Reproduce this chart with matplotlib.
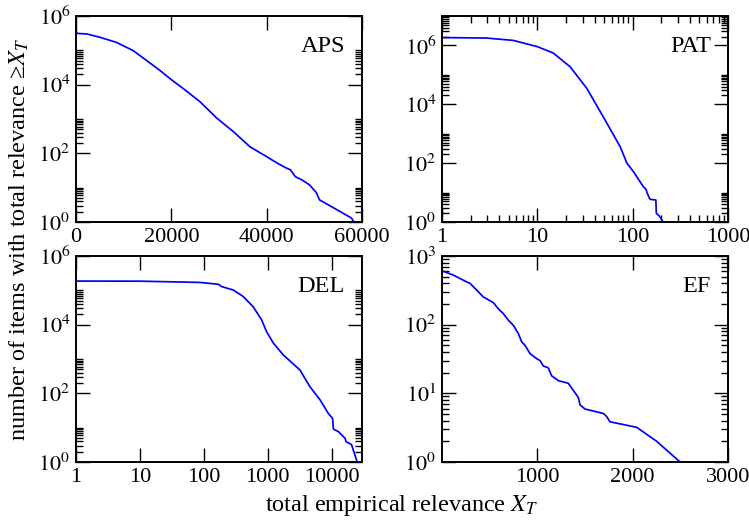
import numpy as np
import matplotlib
matplotlib.use("Agg")
import matplotlib.pyplot as plt
from matplotlib.ticker import FixedLocator, FixedFormatter, NullFormatter, LogLocator

plt.rcParams['font.family'] = ['Liberation Serif', 'DejaVu Serif']
plt.rcParams['mathtext.fontset'] = 'stix'

# ---- data ----
aps_x = [0, 300, 2300, 5000, 8500, 12000, 15500, 17600, 20000, 22500, 24300,
         26000, 29500, 33000, 36500, 40000, 42200, 44000, 45000, 46000, 47500,
         49000, 50400, 51100, 53600, 57800, 58300]
aps_y = [3.6e5, 3.1e5, 3.0e5, 2.4e5, 1.7e5, 9.8e4, 4.3e4, 2.6e4, 1.4e4, 7.7e3,
         4.9e3, 3.2e3, 1.07e3, 4.3e2, 1.55e2, 8.0e1, 5.2e1, 3.8e1, 3.3e1, 2.1e1,
         1.65e1, 1.2e1, 7.2e0, 4.4e0, 2.8e0, 1.3e0, 1.0e0]

pat_x = [1, 2.95, 5.6, 10, 14.7, 22, 33, 49, 74, 87, 102, 129, 138, 142, 152,
         175, 177, 190, 202, 207]
pat_y = [1.85e6, 1.78e6, 1.48e6, 9.1e5, 5.5e5, 1.9e5, 3.5e4, 3.8e3, 3.6e2, 1.0e2,
         5.1e1, 1.6e1, 1.3e1, 9.5e0, 5.9e0, 5.6e0, 2.0e0, 1.6e0, 1.2e0, 1.0e0]

del_x = [1, 10, 87, 170, 190, 290, 415, 595, 805, 960, 1230, 1750, 3200, 4600,
         6600, 8900, 10400, 10700, 12900, 16300, 16900, 20600, 25200]
del_y = [1.86e5, 1.85e5, 1.7e5, 1.5e5, 1.29e5, 1.02e5, 6.6e4, 3.3e4, 1.38e4,
         6.3e3, 2.9e3, 1.32e3, 4.8e2, 1.55e2, 6.5e1, 2.6e1, 1.86e1, 9.1e0, 7.6e0,
         4.9e0, 3.9e0, 3.2e0, 1.0e0]

ef_x = [0, 119, 259, 294, 434, 538, 591, 643, 696, 748, 801, 836, 871, 923, 993,
        1028, 1063, 1115, 1150, 1220, 1325, 1378, 1430, 1448, 1500, 1692, 1727,
        1762, 2042, 2252, 2497]
ef_y = [610, 527, 420, 400, 253, 210, 170, 145, 116, 98, 74, 56, 50, 38, 32,
        30, 25, 23.5, 18, 15.3, 14, 11, 8.7, 6.8, 5.9, 5.1, 4.6, 3.85, 3.2,
        2.0, 1.0]

log_ticks_6 = [1, 1e2, 1e4, 1e6]
log_labels_6 = [r'$10^{0}$', r'$10^{2}$', r'$10^{4}$', r'$10^{6}$']

W, H = 749, 520
fig = plt.figure(figsize=(W / 100, H / 100), dpi=100)

def rect(l, t, r, b):
    return [l / W, 1 - b / H, (r - l) / W, (b - t) / H]

ax_aps = fig.add_axes(rect(76, 16, 362, 222))
ax_pat = fig.add_axes(rect(442, 16, 728, 222))
ax_del = fig.add_axes(rect(76, 256, 362, 462))
ax_ef = fig.add_axes(rect(442, 256, 728, 462))

blue = '#0000ff'
lw = 1.25
fs_tick = 16

def style(ax, name):
    for s in ax.spines.values():
        s.set_linewidth(1.4)
    ax.tick_params(which='both', direction='in', top=True, right=True,
                   labelsize=fs_tick, width=1.0, pad=4)
    ax.tick_params(which='major', length=10)
    ax.tick_params(which='minor', length=5)
    ax.text(0.94, 0.905, name, transform=ax.transAxes, ha='right', va='top',
            fontsize=17.5)

def sparse_minor(maxexp):
    vals = []
    for e in range(0, maxexp + 1, 2):
        for k in range(2, 11):
            vals.append(k * 10.0 ** e)
    return vals

# APS
ax = ax_aps
ax.plot(aps_x, aps_y, color=blue, lw=lw)
ax.set_yscale('log')
ax.set_xlim(0, 60000)
ax.set_ylim(1, 1e6)
ax.set_xticks([0, 20000, 40000, 60000])
ax.set_xticklabels(['0', '20000', '40000', '60000'])
ax.yaxis.set_major_locator(FixedLocator(log_ticks_6))
ax.yaxis.set_major_formatter(FixedFormatter(log_labels_6))
ax.yaxis.set_minor_locator(FixedLocator(sparse_minor(4)))
ax.yaxis.set_minor_formatter(NullFormatter())
style(ax, 'APS')

# PAT
ax = ax_pat
ax.plot(pat_x, pat_y, color=blue, lw=lw)
ax.set_xscale('log')
ax.set_yscale('log')
ax.set_xlim(1, 1000)
ax.set_ylim(1, 1e7)
ax.xaxis.set_major_locator(FixedLocator([1, 10, 100, 1000]))
ax.xaxis.set_major_formatter(FixedFormatter(['1', '10', '100', '1000']))
ax.xaxis.set_minor_locator(LogLocator(base=10, subs=np.arange(2, 10)))
ax.xaxis.set_minor_formatter(NullFormatter())
ax.yaxis.set_major_locator(FixedLocator(log_ticks_6))
ax.yaxis.set_major_formatter(FixedFormatter(log_labels_6))
ax.yaxis.set_minor_locator(FixedLocator(sparse_minor(6)))
ax.yaxis.set_minor_formatter(NullFormatter())
style(ax, 'PAT')

# DEL
ax = ax_del
ax.plot(del_x, del_y, color=blue, lw=lw)
ax.set_xscale('log')
ax.set_yscale('log')
ax.set_xlim(1, 30000)
ax.set_ylim(1, 1e6)
ax.xaxis.set_major_locator(FixedLocator([1, 10, 100, 1000, 10000]))
ax.xaxis.set_major_formatter(FixedFormatter(['1', '10', '100', '1000', '10000']))
ax.xaxis.set_minor_locator(LogLocator(base=10, subs=np.arange(2, 10)))
ax.xaxis.set_minor_formatter(NullFormatter())
ax.yaxis.set_major_locator(FixedLocator(log_ticks_6))
ax.yaxis.set_major_formatter(FixedFormatter(log_labels_6))
ax.yaxis.set_minor_locator(FixedLocator(sparse_minor(4)))
ax.yaxis.set_minor_formatter(NullFormatter())
style(ax, 'DEL')

# EF
ax = ax_ef
ax.plot(ef_x, ef_y, color=blue, lw=lw)
ax.set_yscale('log')
ax.set_xlim(0, 3000)
ax.set_ylim(1, 1000)
ax.set_xticks([1000, 2000, 3000])
ax.set_xticklabels(['1000', '2000', '3000'])
ax.yaxis.set_major_locator(FixedLocator([1, 10, 100, 1000]))
ax.yaxis.set_major_formatter(FixedFormatter([r'$10^{0}$', r'$10^{1}$', r'$10^{2}$', r'$10^{3}$']))
ax.yaxis.set_minor_locator(LogLocator(base=10, subs=np.arange(2, 10)))
ax.yaxis.set_minor_formatter(NullFormatter())
style(ax, 'EF')

fig.text(402 / W, 1 - 505 / H, r'total empirical relevance $X_T$', ha='center',
         va='center', fontsize=17.5)
fig.text(19 / W, 1 - 239 / H, r'number of items with total relevance ≥$X_T$',
         ha='center', va='center', rotation=90, fontsize=17.5)

fig.savefig('out.png', dpi=100)
